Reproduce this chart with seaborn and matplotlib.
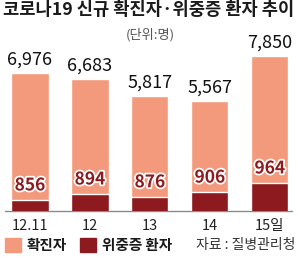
import matplotlib
matplotlib.use("Agg")
import matplotlib.pyplot as plt
import matplotlib.patheffects as pe
from matplotlib.patches import Rectangle
import seaborn as sns
import pandas as pd

sns.set_theme(style="white")
plt.rcParams['font.family'] = ['Noto Sans CJK KR', 'DejaVu Sans']

dates = ["12.11", "12", "13", "14", "15일"]
confirmed = [6976, 6683, 5817, 5567, 7850]
severe = [856, 894, 876, 906, 964]

title = "코로나19 신규 확진자·위중증 환자 추이"
unit = "(단위:명)"
source = "자료 : 질병관리청"
legend_labels = ["확진자", "위중증 환자"]

salmon = "#F39A7D"
dark = "#8C1A1E"

df = pd.DataFrame({"date": dates, "confirmed": confirmed, "severe": severe})

W, H = 298, 258
fig = plt.figure(figsize=(W / 100, H / 100), dpi=100)
fig.patch.set_facecolor("white")

# main axes: baseline at y=211 px from top, top at 40 px
ax = fig.add_axes([0, (H - 211) / H, 1, (211 - 40) / H])
sns.barplot(data=df, x="date", y="confirmed", color=salmon, width=0.62,
            saturation=1, ax=ax, zorder=1)
ax.set_xlim(-0.5, 4.47)
ax.set_ylim(0, 8644)
ax.set_facecolor("none")

ax2 = ax.twinx()
sns.barplot(data=df, x="date", y="severe", color=dark, width=0.62,
            saturation=1, ax=ax2, zorder=2)
ax2.set_xlim(-0.5, 4.47)
ax2.set_ylim(786, 1875)

for a in (ax, ax2):
    a.set_xlabel("")
    a.set_ylabel("")
    a.set_yticks([])
    for s in a.spines.values():
        s.set_visible(False)
ax2.set_xticks([])
ax.tick_params(axis="x", length=0, pad=6, labelsize=10.5, labelcolor="#222222")
ax.set_xticks(range(len(dates)))
ax.set_xticklabels(dates)

ax.axhline(0, xmin=5 / W, xmax=292 / W, color="#8a8a8a", lw=1.0, clip_on=False, zorder=3)

for i, v in enumerate(confirmed):
    ax.annotate(f"{v:,}", (i, v), xytext=(0, 3), textcoords="offset points",
                ha="center", va="bottom", fontsize=13, fontweight="medium",
                color="#111111")

for i, v in enumerate(severe):
    ax2.annotate(f"{v:,}", (i, v), xytext=(0, 4), textcoords="offset points",
                 ha="center", va="bottom", fontsize=12.5, fontweight="bold",
                 color=dark,
                 path_effects=[pe.withStroke(linewidth=2.5, foreground="white")])

fig.text(0.5, 1 - 10 / H, title, ha="center", va="center", fontsize=12.7,
         fontweight="heavy", color="#1a1a1a")
fig.text(150 / W, 1 - 35 / H, unit, ha="center", va="center", fontsize=9.5,
         color="#555555")

# legend
for x0, col, lab, tx in [(5, salmon, legend_labels[0], 27), (80, dark, legend_labels[1], 102)]:
    fig.patches.append(Rectangle((x0 / W, (H - 252) / H), 16 / W, 14 / H,
                                 transform=fig.transFigure, color=col))
    fig.text(tx / W, 1 - 245 / H, lab, ha="left", va="center", fontsize=10.5,
             fontweight="bold", color="#1a1a1a")
fig.text(295 / W, 1 - 245 / H, source, ha="right", va="center", fontsize=10,
         color="#333333")

fig.savefig("out.png", dpi=100, facecolor="white")
